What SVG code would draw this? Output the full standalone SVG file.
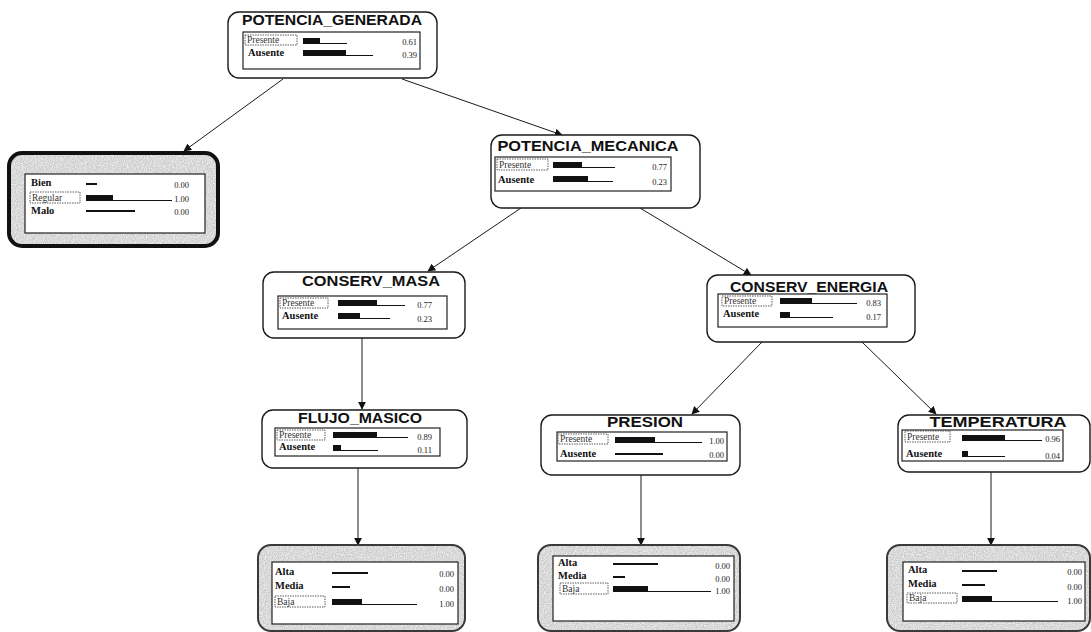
<svg xmlns="http://www.w3.org/2000/svg" width="1091" height="632" viewBox="0 0 1091 632">
  <defs>
    <style>
      .node { fill: #ffffff; stroke: #1a1a1a; stroke-width: 1.4; }
      .ev-fill { fill: #cbcbcb; stroke: none; }
      .ev { fill: none; stroke: #3a3a3a; stroke-width: 2; }
      .ev-strong { fill: none; stroke: #111111; stroke-width: 4; }
      .panel { fill: #ffffff; stroke: #222222; stroke-width: 1.2; }
      .title { font-family: "Liberation Sans", Arial, sans-serif; font-weight: bold; font-size: 15px; fill: #111111; text-anchor: middle; }
      .lbl { font-family: "Liberation Serif", "Times New Roman", serif; font-weight: bold; font-size: 10.5px; fill: #111111; }
      .sel { font-family: "Liberation Serif", "Times New Roman", serif; font-size: 9.5px; fill: #333333; }
      .selbox { fill: none; stroke: #333333; stroke-width: 0.8; stroke-dasharray: 1.5 1; }
      .val { font-family: "Liberation Serif", "Times New Roman", serif; font-size: 8.5px; fill: #222222; text-anchor: end; }
      .thick { fill: #111111; }
      .thin { stroke: #111111; stroke-width: 1; }
      .mid { stroke: #111111; stroke-width: 2; }
      .edge { stroke: #1a1a1a; stroke-width: 1; fill: none; marker-end: url(#arrow); }
    </style>
    <marker id="arrow" viewBox="0 0 10 10" refX="9" refY="5" markerWidth="8" markerHeight="8" markerUnits="userSpaceOnUse" orient="auto">
      <path d="M0,0 L10,5 L0,10 z" fill="#111111"/>
    </marker>
    <filter id="grain" x="-5%" y="-5%" width="110%" height="110%">
      <feTurbulence type="fractalNoise" baseFrequency="0.9" numOctaves="2" seed="4" result="n"/>
      <feColorMatrix in="n" type="matrix" values="0 0 0 0 1  0 0 0 0 1  0 0 0 0 1  0 0 0 1.6 -0.55" result="w"/>
      <feComposite in="w" in2="SourceGraphic" operator="in" result="wm"/>
      <feMerge><feMergeNode in="SourceGraphic"/><feMergeNode in="wm"/></feMerge>
    </filter>
  </defs>

  <rect width="1091" height="632" fill="#ffffff"/>

  <!-- connectors -->
  <g id="edges">
    <line class="edge" x1="283" y1="79" x2="184" y2="151"/>
    <line class="edge" x1="402" y1="79" x2="562" y2="135"/>
    <line class="edge" x1="521" y1="208" x2="428" y2="271"/>
    <line class="edge" x1="640" y1="208" x2="751" y2="275"/>
    <line class="edge" x1="362" y1="338" x2="362" y2="409"/>
    <line class="edge" x1="762" y1="342" x2="692" y2="414"/>
    <line class="edge" x1="862" y1="342" x2="936" y2="414"/>
    <line class="edge" x1="358" y1="468" x2="358" y2="545"/>
    <line class="edge" x1="641" y1="475" x2="641" y2="545"/>
    <line class="edge" x1="991" y1="472" x2="991" y2="545"/>
  </g>

  <!-- POTENCIA_GENERADA -->
  <g id="potencia_generada">
    <rect class="node" x="228" y="12" width="209" height="66" rx="11"/>
    <text class="title" x="332" y="25" textLength="180" lengthAdjust="spacingAndGlyphs">POTENCIA_GENERADA</text>
    <rect class="panel" x="243" y="32" width="177" height="37"/>
    <rect class="selbox" x="245" y="35" width="52" height="10"/>
    <text class="sel" x="247" y="43">Presente</text>
    <rect class="thick" x="303" y="38" width="17" height="6"/>
    <line class="thin" x1="320" y1="43.5" x2="347" y2="43.5"/>
    <text class="val" x="417" y="45">0.61</text>
    <text class="lbl" x="248" y="56">Ausente</text>
    <rect class="thick" x="303" y="50" width="43" height="6"/>
    <line class="thin" x1="346" y1="55.5" x2="373" y2="55.5"/>
    <text class="val" x="417" y="58">0.39</text>
  </g>

  <!-- evidence node, left -->
  <g id="estado_left">
    <rect class="ev-fill" x="9" y="153" width="209" height="93" rx="13" filter="url(#grain)"/>
    <rect class="ev-strong" x="9" y="153" width="209" height="93" rx="13"/>
    <rect class="panel" x="25" y="174" width="180" height="59"/>
    <text class="lbl" x="31" y="186">Bien</text>
    <line class="mid" x1="86" y1="184" x2="97" y2="184"/>
    <text class="val" x="189" y="188">0.00</text>
    <rect class="selbox" x="30" y="192" width="50" height="11"/>
    <text class="sel" x="32" y="201">Regular</text>
    <rect class="thick" x="86" y="195" width="27" height="6"/>
    <line class="thin" x1="113" y1="200.5" x2="172" y2="200.5"/>
    <text class="val" x="189" y="202">1.00</text>
    <text class="lbl" x="31" y="214">Malo</text>
    <line class="mid" x1="86" y1="211" x2="135" y2="211"/>
    <text class="val" x="189" y="215">0.00</text>
  </g>

  <!-- POTENCIA_MECANICA -->
  <g id="potencia_mecanica">
    <rect class="node" x="491" y="135" width="209" height="73" rx="11"/>
    <text class="title" x="588" y="151" textLength="181" lengthAdjust="spacingAndGlyphs">POTENCIA_MECANICA</text>
    <rect class="panel" x="495" y="157" width="176" height="34"/>
    <rect class="selbox" x="497" y="159" width="51" height="11"/>
    <text class="sel" x="499" y="168">Presente</text>
    <rect class="thick" x="553" y="162" width="29" height="6"/>
    <line class="thin" x1="582" y1="167.5" x2="615" y2="167.5"/>
    <text class="val" x="667" y="170">0.77</text>
    <text class="lbl" x="498" y="183">Ausente</text>
    <rect class="thick" x="553" y="176" width="35" height="6"/>
    <line class="thin" x1="588" y1="181.5" x2="613" y2="181.5"/>
    <text class="val" x="667" y="185">0.23</text>
  </g>

  <!-- CONSERV_MASA -->
  <g id="conserv_masa">
    <rect class="node" x="263" y="272" width="202" height="66" rx="11"/>
    <text class="title" x="371" y="286" textLength="138" lengthAdjust="spacingAndGlyphs">CONSERV_MASA</text>
    <rect class="panel" x="278" y="296" width="169" height="33"/>
    <rect class="selbox" x="280" y="298" width="48" height="10"/>
    <text class="sel" x="282" y="306">Presente</text>
    <rect class="thick" x="338" y="300" width="39" height="6"/>
    <line class="thin" x1="377" y1="305.5" x2="405" y2="305.5"/>
    <text class="val" x="432" y="308">0.77</text>
    <text class="lbl" x="282" y="319">Ausente</text>
    <rect class="thick" x="338" y="313" width="22" height="6"/>
    <line class="thin" x1="360" y1="318.5" x2="390" y2="318.5"/>
    <text class="val" x="432" y="322">0.23</text>
  </g>

  <!-- CONSERV_ENERGIA -->
  <g id="conserv_energia">
    <rect class="node" x="707" y="275" width="208" height="67" rx="11"/>
    <text class="title" x="809" y="292" textLength="158" lengthAdjust="spacingAndGlyphs">CONSERV_ENERGIA</text>
    <rect class="panel" x="718" y="294" width="169" height="33"/>
    <rect class="selbox" x="722" y="296" width="50" height="10"/>
    <text class="sel" x="724" y="304">Presente</text>
    <rect class="thick" x="780" y="298" width="32" height="6"/>
    <line class="thin" x1="812" y1="303.5" x2="857" y2="303.5"/>
    <text class="val" x="881" y="306">0.83</text>
    <text class="lbl" x="723" y="317">Ausente</text>
    <rect class="thick" x="780" y="312" width="10" height="6"/>
    <line class="thin" x1="790" y1="317.5" x2="833" y2="317.5"/>
    <text class="val" x="881" y="320">0.17</text>
  </g>

  <!-- FLUJO_MASICO -->
  <g id="flujo_masico">
    <rect class="node" x="262" y="410" width="205" height="58" rx="11"/>
    <text class="title" x="360" y="423" textLength="124" lengthAdjust="spacingAndGlyphs">FLUJO_MASICO</text>
    <rect class="panel" x="275" y="428" width="165" height="28"/>
    <rect class="selbox" x="277" y="430" width="48" height="10"/>
    <text class="sel" x="279" y="438">Presente</text>
    <rect class="thick" x="333" y="432" width="44" height="6"/>
    <line class="thin" x1="377" y1="437.5" x2="408" y2="437.5"/>
    <text class="val" x="432" y="440">0.89</text>
    <text class="lbl" x="279" y="450">Ausente</text>
    <rect class="thick" x="333" y="445" width="8" height="6"/>
    <line class="thin" x1="341" y1="450.5" x2="378" y2="450.5"/>
    <text class="val" x="432" y="453">0.11</text>
  </g>

  <!-- PRESION -->
  <g id="presion">
    <rect class="node" x="541" y="415" width="199" height="60" rx="11"/>
    <text class="title" x="645" y="427" textLength="76" lengthAdjust="spacingAndGlyphs">PRESION</text>
    <rect class="panel" x="557" y="432" width="170" height="29"/>
    <rect class="selbox" x="558" y="434" width="50" height="10"/>
    <text class="sel" x="560" y="442">Presente</text>
    <rect class="thick" x="615" y="437" width="40" height="6"/>
    <line class="thin" x1="655" y1="442.5" x2="702" y2="442.5"/>
    <text class="val" x="724" y="444">1.00</text>
    <text class="lbl" x="560" y="457">Ausente</text>
    <line class="mid" x1="615" y1="454" x2="663" y2="454"/>
    <text class="val" x="724" y="458">0.00</text>
  </g>

  <!-- TEMPERATURA -->
  <g id="temperatura">
    <rect class="node" x="898" y="415" width="192" height="57" rx="11"/>
    <text class="title" x="998" y="427" textLength="137" lengthAdjust="spacingAndGlyphs">TEMPERATURA</text>
    <rect class="panel" x="902" y="430" width="161" height="31"/>
    <rect class="selbox" x="905" y="431" width="45" height="11"/>
    <text class="sel" x="907" y="440">Presente</text>
    <rect class="thick" x="962" y="435" width="43" height="6"/>
    <line class="thin" x1="1005" y1="440.5" x2="1042" y2="440.5"/>
    <text class="val" x="1060" y="442">0.96</text>
    <text class="lbl" x="906" y="457">Ausente</text>
    <rect class="thick" x="962" y="451" width="6" height="6"/>
    <line class="thin" x1="968" y1="456.5" x2="1005" y2="456.5"/>
    <text class="val" x="1060" y="459">0.04</text>
  </g>

  <!-- evidence node under FLUJO_MASICO -->
  <g id="estado_flujo">
    <rect class="ev-fill" x="258" y="545" width="207" height="86" rx="13" filter="url(#grain)"/>
    <rect class="ev" x="258" y="545" width="207" height="86" rx="13"/>
    <rect class="panel" x="272" y="562" width="186" height="62"/>
    <text class="lbl" x="275" y="575">Alta</text>
    <line class="mid" x1="332" y1="573" x2="368" y2="573"/>
    <text class="val" x="454" y="577">0.00</text>
    <text class="lbl" x="275" y="589">Media</text>
    <line class="mid" x1="332" y1="587" x2="350" y2="587"/>
    <text class="val" x="454" y="592">0.00</text>
    <rect class="selbox" x="275" y="596" width="50" height="11"/>
    <text class="sel" x="277" y="605">Baja</text>
    <rect class="thick" x="332" y="599" width="30" height="6"/>
    <line class="thin" x1="362" y1="604.5" x2="417" y2="604.5"/>
    <text class="val" x="454" y="607">1.00</text>
  </g>

  <!-- evidence node under PRESION -->
  <g id="estado_presion">
    <rect class="ev-fill" x="538" y="545" width="202" height="86" rx="13" filter="url(#grain)"/>
    <rect class="ev" x="538" y="545" width="202" height="86" rx="13"/>
    <rect class="panel" x="553" y="556" width="181" height="65"/>
    <text class="lbl" x="558" y="566">Alta</text>
    <line class="mid" x1="613" y1="564" x2="658" y2="564"/>
    <text class="val" x="730" y="569">0.00</text>
    <text class="lbl" x="558" y="579">Media</text>
    <line class="mid" x1="613" y1="577" x2="625" y2="577"/>
    <text class="val" x="730" y="582">0.00</text>
    <rect class="selbox" x="560" y="583" width="48" height="11"/>
    <text class="sel" x="562" y="592">Baja</text>
    <rect class="thick" x="613" y="586" width="35" height="6"/>
    <line class="thin" x1="648" y1="591.5" x2="711" y2="591.5"/>
    <text class="val" x="730" y="594">1.00</text>
  </g>

  <!-- evidence node under TEMPERATURA -->
  <g id="estado_temperatura">
    <rect class="ev-fill" x="887" y="545" width="203" height="86" rx="13" filter="url(#grain)"/>
    <rect class="ev" x="887" y="545" width="203" height="86" rx="13"/>
    <rect class="panel" x="903" y="562" width="182" height="59"/>
    <text class="lbl" x="908" y="573">Alta</text>
    <line class="mid" x1="962" y1="571" x2="997" y2="571"/>
    <text class="val" x="1082" y="575">0.00</text>
    <text class="lbl" x="908" y="587">Media</text>
    <line class="mid" x1="962" y1="585" x2="985" y2="585"/>
    <text class="val" x="1082" y="590">0.00</text>
    <rect class="selbox" x="907" y="593" width="50" height="10"/>
    <text class="sel" x="909" y="601">Baja</text>
    <rect class="thick" x="962" y="596" width="30" height="6"/>
    <line class="thin" x1="992" y1="601.5" x2="1058" y2="601.5"/>
    <text class="val" x="1082" y="604">1.00</text>
  </g>
</svg>
